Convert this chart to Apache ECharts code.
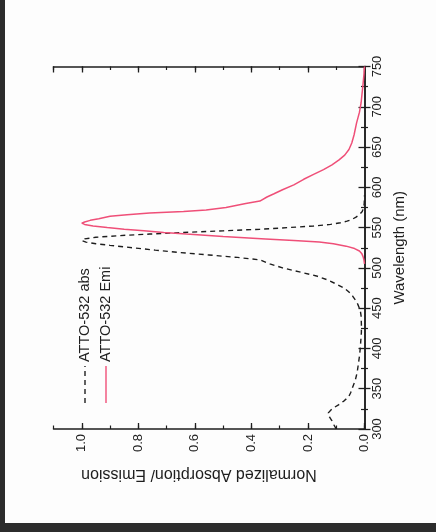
<!DOCTYPE html>
<html>
<head>
<meta charset="utf-8">
<script src="https://cdn.jsdelivr.net/npm/echarts@6/dist/echarts.min.js"></script>
<style>
html,body{margin:0;padding:0;width:436px;height:532px;background:#2c2c2c;overflow:hidden;}
#c{position:absolute;left:5px;top:0;width:431px;height:523px;background:#fdfdfd;}
</style>
</head>
<body>
<div id="c"></div>
<script>
// Absorption (dashed black): wavelength (nm) and normalized value
const absWl  = [300,305,310,315,320,325,330,335,340,345,350,360,370,380,390,400,410,420,430,440,445,450,455,460,465,470,475,480,485,490,495,500,505,510,513,516,519,522,525,528,530,532,534,536,538,540,542,544,546,548,550,552,554,556,558,560,563,566,570,575,580,590];
const absVal = [0.10,0.108,0.115,0.124,0.128,0.115,0.092,0.072,0.056,0.049,0.044,0.033,0.026,0.022,0.018,0.015,0.013,0.011,0.011,0.012,0.014,0.018,0.024,0.032,0.042,0.055,0.072,0.10,0.13,0.17,0.23,0.29,0.335,0.37,0.45,0.55,0.65,0.74,0.82,0.90,0.95,0.985,1.0,0.99,0.95,0.87,0.76,0.64,0.50,0.37,0.27,0.18,0.12,0.085,0.062,0.045,0.03,0.018,0.008,0.003,0.001,0];
// Emission (red)
const emiWl  = [505,510,514,518,521,524,527,530,532,534,536,539,542,544,546,548,550,552,554,555.5,557,559,561,564,566,568,570,572,575,580,583,588,592,597,603,610,616,622,628,634,640,647,655,665,680,693,705,715,725,740,750];
const emiVal = [0,0.002,0.005,0.01,0.018,0.035,0.065,0.11,0.16,0.25,0.35,0.5,0.63,0.71,0.78,0.85,0.91,0.96,0.99,1.0,0.99,0.97,0.94,0.9,0.84,0.76,0.64,0.56,0.49,0.42,0.37,0.345,0.32,0.29,0.25,0.215,0.18,0.145,0.115,0.09,0.07,0.055,0.045,0.037,0.028,0.018,0.012,0.009,0.006,0.002,0];
const absName = 'ATTO-532 abs';
const emiName = 'ATTO-532 Emi';
const xName = 'Normalized Absorption/ Emission';
const yName = 'Wavelength (nm)';

const INK = '#1e1e1e';
const RED = '#ef4f78';
const FONT = 'Liberation Sans, Arial, sans-serif';

function pairs(v, w){ return v.map((x,i)=>[x, w[i]]); }

const chart = echarts.init(document.getElementById('c'), null, {renderer:'canvas'});
const baseX = {
  type:'value', min:0, max:1.1, inverse:true, splitLine:{show:false}
};
const option = {
  animation:false,
  backgroundColor:'#fdfdfd',
  grid:{left:48.5, right:71.5, top:66.5, bottom:94},
  xAxis:[
    Object.assign({}, baseX, {
      position:'bottom', interval:0.2,
      axisLine:{show:true, lineStyle:{color:INK, width:1.5}},
      axisTick:{show:true, inside:true, length:6, lineStyle:{color:INK, width:1.3}},
      axisLabel:{show:true, rotate:90, margin:5, color:INK, fontSize:13, fontFamily:FONT, showMaxLabel:false,
        formatter:v=>v.toFixed(1)}
    }),
    Object.assign({}, baseX, {
      position:'bottom', interval:0.1,
      axisLine:{show:false},
      axisTick:{show:true, inside:true, length:3.5, lineStyle:{color:INK, width:1.2}},
      axisLabel:{show:false}
    }),
    Object.assign({}, baseX, {
      position:'top', interval:0.2,
      axisLine:{show:true, lineStyle:{color:INK, width:1.5}},
      axisTick:{show:true, inside:true, length:6, lineStyle:{color:INK, width:1.3}},
      axisLabel:{show:false}
    }),
    Object.assign({}, baseX, {
      position:'top', interval:0.1,
      axisLine:{show:false},
      axisTick:{show:true, inside:true, length:3.5, lineStyle:{color:INK, width:1.2}},
      axisLabel:{show:false}
    })
  ],
  yAxis:[
    {
      type:'value', min:300, max:750, interval:50, position:'right',
      splitLine:{show:false},
      axisLine:{show:true, lineStyle:{color:INK, width:1.5}},
      axisTick:{show:true, inside:true, length:6, lineStyle:{color:INK, width:1.3}},
      minorTick:{show:true, splitNumber:2, length:3.5, lineStyle:{color:INK, width:1.2}},
      axisLabel:{show:true, rotate:90, margin:6, color:INK, fontSize:13, fontFamily:FONT},
      name:yName, nameLocation:'middle', nameRotate:90, nameGap:28,
      nameTextStyle:{color:INK, fontSize:15, fontFamily:FONT}
    },
    {
      type:'value', min:300, max:750, interval:50, position:'left',
      splitLine:{show:false},
      axisLine:{show:true, lineStyle:{color:INK, width:1.5}},
      axisTick:{show:true, inside:true, length:6, lineStyle:{color:INK, width:1.3}},
      minorTick:{show:true, splitNumber:2, length:3.5, lineStyle:{color:INK, width:1.2}},
      axisLabel:{show:false}
    }
  ],
  series:[
    {
      name:absName, type:'line', xAxisIndex:0, yAxisIndex:0,
      data:pairs(absVal, absWl), showSymbol:false, smooth:false,
      lineStyle:{color:INK, width:1.4, type:[5,4]}, z:3
    },
    {
      name:emiName, type:'line', xAxisIndex:0, yAxisIndex:0,
      data:pairs(emiVal, emiWl), showSymbol:false, smooth:false,
      lineStyle:{color:RED, width:1.5}, z:4
    }
  ],
  graphic:[
    {type:'text', x:194, y:474, rotation:Math.PI,
      style:{text:xName, fill:INK, font:'16px '+FONT, align:'center', verticalAlign:'middle'}},
    {type:'line', shape:{x1:80, y1:403, x2:80, y2:366}, style:{stroke:INK, lineWidth:1.4, lineDash:[5,4]}},
    {type:'text', x:80, y:362, rotation:Math.PI/2,
      style:{text:absName, fill:INK, font:'14.5px '+FONT, align:'left', verticalAlign:'middle'}},
    {type:'line', shape:{x1:101, y1:403, x2:101, y2:366}, style:{stroke:RED, lineWidth:1.4}},
    {type:'text', x:101, y:362, rotation:Math.PI/2,
      style:{text:emiName, fill:INK, font:'14.5px '+FONT, align:'left', verticalAlign:'middle'}}
  ]
};
chart.setOption(option);
</script>
</body>
</html>
